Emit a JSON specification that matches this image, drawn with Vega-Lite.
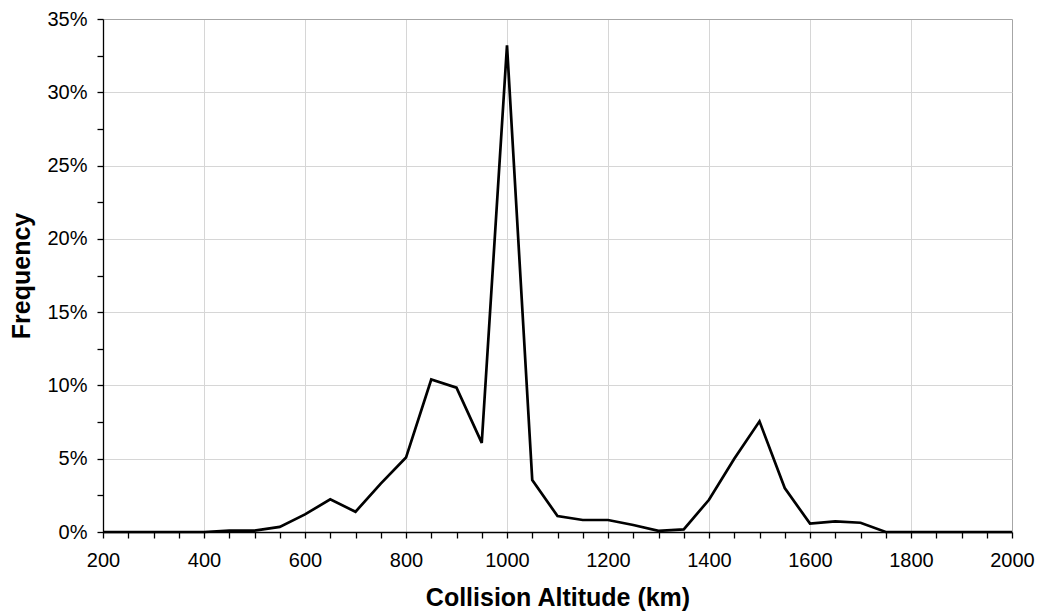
{
  "$schema": "https://vega.github.io/schema/vega-lite/v6.json",
  "width": 909,
  "height": 513,
  "autosize": {"type": "none"},
  "padding": {"left": 103, "top": 19, "right": 27, "bottom": 81},
  "background": "white",
  "config": {
    "view": {"stroke": null},
    "font": "Liberation Sans",
    "axis": {
      "labelFont": "Liberation Sans",
      "titleFont": "Liberation Sans",
      "labelColor": "black",
      "titleColor": "black",
      "domainColor": "black",
      "tickColor": "black",
      "tickSize": 6,
      "domainWidth": 1.3,
      "tickWidth": 1.3,
      "labelFontSize": 20,
      "titleFontSize": 25,
      "titleFontWeight": "bold",
      "labelOverlap": false,
      "labelFlush": false,
      "gridWidth": 1
    }
  },
  "data": {
    "values": [
      {"altitude": 200, "frequency": 0},
      {"altitude": 250, "frequency": 0},
      {"altitude": 300, "frequency": 0},
      {"altitude": 350, "frequency": 0},
      {"altitude": 400, "frequency": 0},
      {"altitude": 450, "frequency": 0.1},
      {"altitude": 500, "frequency": 0.1},
      {"altitude": 550, "frequency": 0.35},
      {"altitude": 600, "frequency": 1.2},
      {"altitude": 650, "frequency": 2.23},
      {"altitude": 700, "frequency": 1.38},
      {"altitude": 750, "frequency": 3.3},
      {"altitude": 800, "frequency": 5.08},
      {"altitude": 850, "frequency": 10.4},
      {"altitude": 900, "frequency": 9.85},
      {"altitude": 950, "frequency": 6.08},
      {"altitude": 1000, "frequency": 33.2},
      {"altitude": 1050, "frequency": 3.54},
      {"altitude": 1100, "frequency": 1.09},
      {"altitude": 1150, "frequency": 0.82},
      {"altitude": 1200, "frequency": 0.82},
      {"altitude": 1250, "frequency": 0.48},
      {"altitude": 1300, "frequency": 0.08},
      {"altitude": 1350, "frequency": 0.18},
      {"altitude": 1400, "frequency": 2.2},
      {"altitude": 1450, "frequency": 5.0},
      {"altitude": 1500, "frequency": 7.55},
      {"altitude": 1550, "frequency": 3.0},
      {"altitude": 1600, "frequency": 0.57},
      {"altitude": 1650, "frequency": 0.73},
      {"altitude": 1700, "frequency": 0.63},
      {"altitude": 1750, "frequency": 0},
      {"altitude": 1800, "frequency": 0},
      {"altitude": 1850, "frequency": 0},
      {"altitude": 1900, "frequency": 0},
      {"altitude": 1950, "frequency": 0},
      {"altitude": 2000, "frequency": 0}
    ]
  },
  "mark": {"type": "line", "color": "black", "strokeWidth": 2.7, "strokeJoin": "miter", "clip": false},
  "encoding": {
    "x": {
      "field": "altitude",
      "type": "quantitative",
      "scale": {"domain": [200, 2000], "nice": false, "zero": false},
      "axis": {
        "title": "Collision Altitude (km)",
        "values": [200,250,300,350,400,450,500,550,600,650,700,750,800,850,900,950,1000,1050,1100,1150,1200,1250,1300,1350,1400,1450,1500,1550,1600,1650,1700,1750,1800,1850,1900,1950,2000],
        "labelExpr": "datum.value % 200 === 0 ? datum.value : ''",
        "labelPadding": 12,
        "titlePadding": 15,
        "grid": true,
        "gridColor": {"condition": {"test": "datum.value === 2000", "value": "#a6a6a6"}, "value": "#d6d6d6"},
        "gridOpacity": {"condition": {"test": "datum.value % 200 === 0 && datum.value > 200", "value": 1}, "value": 0}
      }
    },
    "y": {
      "field": "frequency",
      "type": "quantitative",
      "scale": {"domain": [0, 35], "nice": false},
      "axis": {
        "title": "Frequency",
        "values": [0,2.5,5,7.5,10,12.5,15,17.5,20,22.5,25,27.5,30,32.5,35],
        "labelExpr": "datum.value % 5 === 0 ? datum.value + '%' : ''",
        "labelPadding": 10,
        "titlePadding": 12,
        "grid": true,
        "gridColor": {"condition": {"test": "datum.value === 35", "value": "#a6a6a6"}, "value": "#d6d6d6"},
        "gridOpacity": {"condition": {"test": "datum.value % 5 === 0 && datum.value > 0", "value": 1}, "value": 0}
      }
    }
  }
}
